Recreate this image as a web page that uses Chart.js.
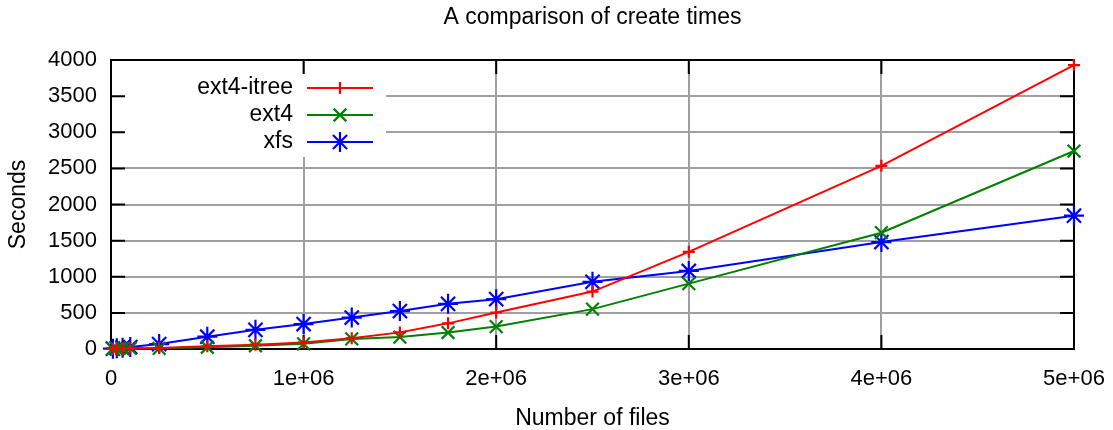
<!DOCTYPE html>
<html>
<head>
<meta charset="utf-8">
<script src="https://cdn.jsdelivr.net/npm/chart.js@4.4.1/dist/chart.umd.min.js"></script>
<style>
    html, body { margin: 0; padding: 0; background: #fff; }
    #contenedor { width: 1113px; height: 430px; }
</style>
</head>
<body>
<div id="contenedor"><canvas id="tiempos"></canvas></div>
<script>
// data
const numFiles = [10000, 30000, 60000, 100000, 250000, 500000, 750000, 1000000, 1250000, 1500000, 1750000, 2000000, 2500000, 3000000, 4000000, 5000000];
const itreeSecs = [2, 4, 6, 10, 14, 38, 60, 90, 150, 230, 355, 505, 795, 1345, 2535, 3930];
const ext4Secs = [1, 3, 5, 8, 9, 24, 45, 72, 140, 165, 228, 310, 552, 905, 1610, 2740];
const xfsSecs = [5, 10, 18, 28, 68, 170, 265, 345, 435, 525, 625, 690, 930, 1080, 1480, 1845];
const xTickLabels = ['0', '1e+06', '2e+06', '3e+06', '4e+06', '5e+06'];
const yTickLabels = ['0', '500', '1000', '1500', '2000', '2500', '3000', '3500', '4000'];

const fuente = '"Liberation Sans", Arial, sans-serif';

function puntos(ys) {
    return numFiles.map((x, i) => ({ x: x, y: ys[i] }));
}

function serie(label, ys, color, estilo, radio) {
    return {
        label: label,
        data: puntos(ys),
        borderColor: color,
        backgroundColor: color,
        borderWidth: 2,
        pointStyle: estilo,
        pointRadius: radio,
        pointBorderWidth: 2.2,
        pointBorderColor: color,
        pointBackgroundColor: color,
        tension: 0,
        fill: false,
        clip: false
    };
}

// frame with inward ticks (gnuplot style) + opaque key box
const marco = {
    id: 'marco',
    beforeDatasetsDraw(chart) {
        const ctx = chart.ctx;
        const a = chart.chartArea;
        const xs = chart.scales.x;
        const ys = chart.scales.y;
        const largo = 14;

        // key box covers the grid
        ctx.save();
        ctx.fillStyle = '#fff';
        ctx.fillRect(a.left + 1, 74, 386 - a.left - 1, 83);
        ctx.restore();

        ctx.save();
        ctx.strokeStyle = '#000';
        ctx.lineWidth = 2;
        ctx.beginPath();
        xs.ticks.forEach(t => {
            const px = xs.getPixelForValue(t.value);
            ctx.moveTo(px, a.bottom); ctx.lineTo(px, a.bottom - largo);
            ctx.moveTo(px, a.top); ctx.lineTo(px, a.top + largo);
        });
        ys.ticks.forEach(t => {
            const py = ys.getPixelForValue(t.value);
            ctx.moveTo(a.left, py); ctx.lineTo(a.left + largo, py);
            ctx.moveTo(a.right, py); ctx.lineTo(a.right - largo, py);
        });
        ctx.stroke();
        ctx.strokeRect(a.left, a.top, a.right - a.left, a.bottom - a.top);
        ctx.restore();
    },
    afterDatasetsDraw(chart) {
        const ctx = chart.ctx;
        const filas = [88, 115, 142];
        ctx.save();
        ctx.font = '23px ' + fuente;
        ctx.textAlign = 'right';
        ctx.textBaseline = 'middle';
        chart.data.datasets.forEach((ds, i) => {
            const y = filas[i];
            ctx.fillStyle = '#000';
            ctx.fillText(ds.label, 293, y);
            ctx.strokeStyle = ds.borderColor;
            ctx.fillStyle = ds.borderColor;
            ctx.lineWidth = 2;
            ctx.beginPath();
            ctx.moveTo(307, y);
            ctx.lineTo(373, y);
            ctx.stroke();
            if (Chart.helpers && Chart.helpers.drawPoint) {
                ctx.lineWidth = 2.2;
                Chart.helpers.drawPoint(ctx, {
                    pointStyle: ds.pointStyle,
                    radius: ds.pointRadius,
                    borderWidth: 2.2,
                    rotation: 0
                }, 340, y);
            }
        });
        ctx.restore();
    }
};

const ctx = document.getElementById('tiempos').getContext('2d');
const chart = new Chart(ctx, {
    type: 'line',
    data: {
        datasets: [
            serie('ext4-itree', itreeSecs, '#ff0000', 'cross', 6),
            serie('ext4', ext4Secs, '#008000', 'crossRot', 9),
            serie('xfs', xfsSecs, '#0000ff', 'star', 10)
        ]
    },
    options: {
        responsive: true,
        maintainAspectRatio: false,
        animation: false,
        layout: { padding: { left: 0, right: 39, top: 0, bottom: 0 } },
        scales: {
            x: {
                type: 'linear',
                min: 0,
                max: 5000000,
                afterFit: s => { s.height = 81; s.paddingRight = 0; s.paddingLeft = 0; },
                ticks: {
                    stepSize: 1000000,
                    padding: 17,
                    color: '#000',
                    font: { family: fuente, size: 22 },
                    maxRotation: 0,
                    callback: (v, i) => xTickLabels[i]
                },
                grid: { color: '#a0a0a0', lineWidth: 2, drawTicks: false },
                border: { display: false },
                title: {
                    display: true,
                    text: 'Number of files',
                    color: '#000',
                    font: { family: fuente, size: 23 },
                    padding: { top: 0, bottom: -2 }
                }
            },
            y: {
                min: 0,
                max: 4000,
                afterFit: s => { s.width = 111; },
                ticks: {
                    stepSize: 500,
                    padding: 14,
                    color: '#000',
                    font: { family: fuente, size: 22 },
                    callback: (v, i) => yTickLabels[i]
                },
                grid: { color: '#a0a0a0', lineWidth: 2, drawTicks: false },
                border: { display: false },
                title: {
                    display: true,
                    text: 'Seconds',
                    color: '#000',
                    font: { family: fuente, size: 23 },
                    padding: { top: 5, bottom: 0 }
                }
            }
        },
        plugins: {
            legend: { display: false },
            tooltip: { enabled: false },
            title: {
                display: true,
                fullSize: false,
                text: 'A comparison of create times',
                color: '#000',
                font: { family: fuente, size: 23, weight: 'normal' },
                padding: { top: 4, bottom: 28.4 }
            }
        }
    },
    plugins: [marco]
});
</script>
</body>
</html>
